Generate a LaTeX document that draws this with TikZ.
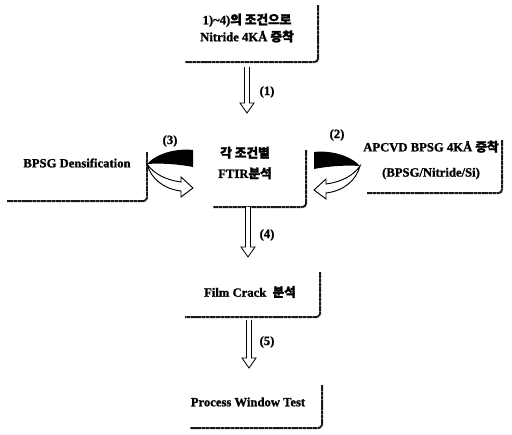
\documentclass[tikz,border=0pt]{standalone}
\usepackage{fontspec}
\setmainfont{Liberation Serif}[BoldFeatures={FakeBold=1.2}]
\newfontfamily\kr[FakeBold=2]{Noto Sans CJK KR}
\usetikzlibrary{positioning,calc}

% right and bottom rim of a box, offsets from the text centre
\newcommand\rim[3]{\draw[rim] ([shift={#2}]#1.center) |- ([shift={#3}]#1.center);}

\tikzset{
  cyc/.pic={
    \fill[black] (23,-21) .. controls (5,-23) and (-14,-17) .. (-23,-7)
      .. controls (-10,-8) and (8,-7) .. (23,-4) -- cycle;
    \filldraw[fill=white, draw=black, line width=0.8pt] (-23,-7)
      .. controls (-16,3) and (-4,9) .. (11,11) -- (11,6) -- (23,17) -- (11,26) -- (11,20)
      .. controls (-6,18) and (-19,8) .. (-23,-7) -- cycle;
  }
}

\begin{document}
\begin{tikzpicture}[
    x=0.03cm, y=-0.03cm,
    txt/.style={align=center, font=\fontsize{10.8}{14.5}\selectfont\bfseries, inner sep=0pt},
    lbl/.style={font=\fontsize{10.8}{12}\selectfont\bfseries, inner sep=0pt},
    rim/.style={black!90, line width=1.7pt, dash pattern=on 1.5pt off 0.3pt, rounded corners=3},
    hollow/.style={draw=black, line width=0.7pt, fill=white,
      to path={($(\tikztostart)+(-2.5,0)$) -- ($(\tikztotarget)+(-2.5,-10)$) -- ($(\tikztotarget)+(-7,-10)$)
        -- (\tikztotarget) -- ($(\tikztotarget)+(7,-10)$) -- ($(\tikztotarget)+(2.5,-10)$) -- ($(\tikztostart)+(2.5,0)$)}},
]
\useasboundingbox (0,0) rectangle (512,434);

% Boxes
\node[txt] (nitride) at (247,28) {1)\textasciitilde4){\kr 의 조건으로}\\Nitride 4KÅ {\kr 증착}};
\node[txt] (ftir) at (245,163) {{\kr 각 조건별}\\[3pt]FTIR{\kr 분석}};
\node[txt] (dens) at (77,163) {BPSG Densification};
\node[txt] (apcvd) at (431,160) {APCVD BPSG 4KÅ {\kr 증착}\\[7pt](BPSG/Nitride/Si)};
\node[txt] (crack) at (250,292) {Film Crack\ \ {\kr 분석}};
\node[txt] (pwt) at (248,402) {Process Window Test};

\rim{nitride}{(71,-23)}{(-62,34)}
\rim{ftir}{(61,-13)}{(-32,44)}
\rim{dens}{(70,-11)}{(-70,38)}
\rim{apcvd}{(71,-20)}{(-64,33)}
\rim{crack}{(70,-20)}{(-65,25)}
\rim{pwt}{(74,-17)}{(-58,26)}

% Steps (1), (4), (5)
\coordinate (s1a) at (247,67);
\coordinate (s1b) at (247,113);
\coordinate (s4a) at (248,207);
\coordinate (s4b) at (248,257);
\coordinate (s5a) at (249,320);
\coordinate (s5b) at (249,368);
\draw[hollow] (s1a) to (s1b);
\draw[hollow] (s4a) to (s4b);
\draw[hollow] (s5a) to (s5b);
\node[lbl] (l1) at (267,92) {(1)};
\node[lbl] (l4) at (267,235) {(4)};
\node[lbl] (l5) at (267,342) {(5)};

% Steps (2), (3)
\pic (c3) at (170,171) {cyc};
\pic[xscale=-1] (c2) at (337,173) {cyc};
\node[lbl] (l3) at (170,141) {(3)};
\node[lbl] (l2) at (337,135) {(2)};

\end{tikzpicture}
\end{document}
